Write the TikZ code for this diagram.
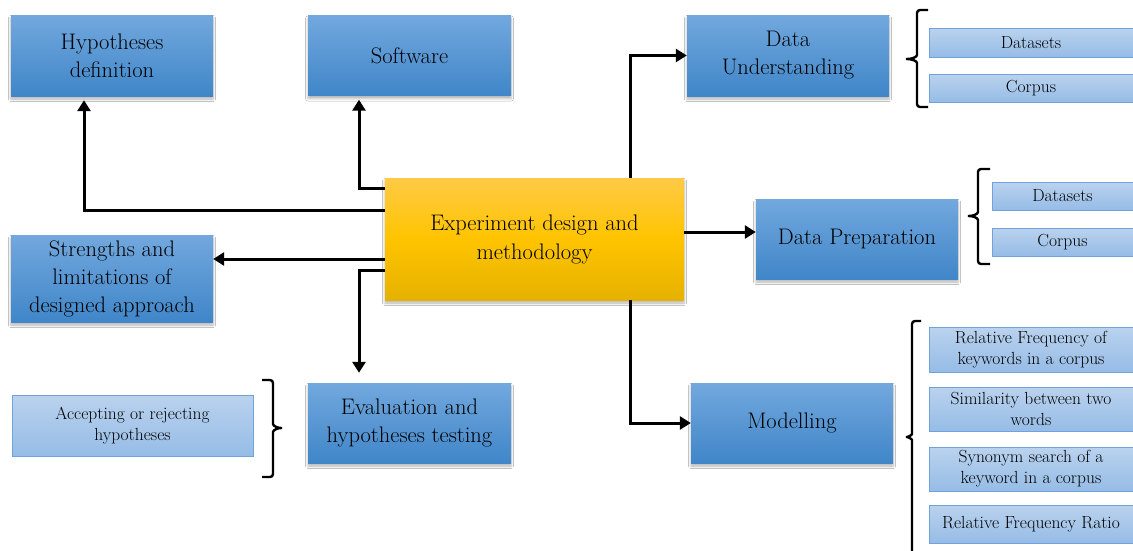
\documentclass[tikz,border=0pt]{standalone}
\usetikzlibrary{arrows.meta,shadows.blur,calc}
\definecolor{bluetop}{RGB}{114,168,222}
\definecolor{bluebot}{RGB}{64,134,200}
\definecolor{lighttop}{RGB}{186,210,238}
\definecolor{lightbot}{RGB}{150,188,230}
\definecolor{lightedge}{RGB}{112,162,222}
\definecolor{goldtop}{RGB}{255,202,70}
\definecolor{goldmid}{RGB}{255,196,0}
\definecolor{goldbot}{RGB}{230,178,0}
\tikzset{
  softshadow/.style={blur shadow={shadow xshift=0pt, shadow yshift=-3pt,
    shadow blur radius=2.5pt, shadow opacity=30}},
  bigbox/.style={rectangle, top color=bluetop, bottom color=bluebot, align=center,
    font=\fontsize{22.5}{28}\selectfont, inner sep=2pt, softshadow},
  corebox/.style={rectangle, top color=goldtop, bottom color=goldbot, middle color=goldmid,
    align=center, font=\fontsize{22.5}{29}\selectfont, inner sep=2pt, softshadow},
  subbox/.style={rectangle, top color=lighttop, bottom color=lightbot, draw=lightedge,
    line width=0.8pt, align=center, font=\fontsize{17.5}{21}\selectfont, inner sep=1pt},
  conn/.style={line width=3pt, -{Triangle[length=11pt,width=13pt]}},
  bracket/.style={line width=2.4pt, rounded corners=3pt},
}
\begin{document}
\begin{tikzpicture}[x=1pt,y=-1pt]
  \fill[white] (0,0) rectangle (1133,550);
  \useasboundingbox (0,0) rectangle (1133,550);

  % central box
  \node[corebox, minimum width=299pt, minimum height=122pt] (main) at (534.5,239)
    {Experiment design and\\methodology};

  % main blue boxes
  \node[bigbox, minimum width=202pt, minimum height=81pt] (hyp) at (112,55.5) {Hypotheses\\definition};
  \node[bigbox, minimum width=203pt, minimum height=80pt] (soft) at (409.5,55.5) {Software};
  \node[bigbox, minimum width=202pt, minimum height=81pt] (du) at (788,55.5) {Data\\Understanding};
  \node[bigbox, minimum width=202pt, minimum height=80pt] (dp) at (857,239) {Data Preparation};
  \node[bigbox, minimum width=202pt, minimum height=87pt] (str) at (112,278.5) {Strengths and\\limitations of\\designed approach};
  \node[bigbox, minimum width=203pt, minimum height=80pt] (eval) at (409.5,423) {Evaluation and\\hypotheses testing};
  \node[bigbox, minimum width=202pt, minimum height=80pt] (mod) at (792,423) {Modelling};

  % detail boxes
  \node[subbox, minimum width=204pt, minimum height=29pt] (ds1) at (1031,42.5) {Datasets};
  \node[subbox, minimum width=204pt, minimum height=28pt] (cp1) at (1031,88) {Corpus};
  \node[subbox, minimum width=141pt, minimum height=28pt] (ds2) at (1062.5,196) {Datasets};
  \node[subbox, minimum width=141pt, minimum height=28pt] (cp2) at (1062.5,242) {Corpus};
  \node[subbox, minimum width=204pt, minimum height=45pt] (m1) at (1031,349.5) {Relative Frequency of\\keywords in a corpus};
  \node[subbox, minimum width=204pt, minimum height=44pt] (m2) at (1031,409) {Similarity between two\\words};
  \node[subbox, minimum width=204pt, minimum height=44pt] (m3) at (1031,469) {Synonym search of a\\keyword in a corpus};
  \node[subbox, minimum width=204pt, minimum height=38pt] (m4) at (1031,524) {Relative Frequency Ratio};
  \node[subbox, minimum width=241pt, minimum height=61pt] (acc) at (132.5,425.5) {Accepting or rejecting\\hypotheses};

  % connectors from the central box
  \coordinate (oHyp) at ($(main.west)+(0,-29)$);
  \coordinate (oSoft) at ($(main.west)+(0,-51)$);
  \coordinate (oStr) at ($(main.west)+(0,20)$);
  \coordinate (oEval) at ($(main.west)+(0,31)$);
  \coordinate (oDu) at ($(main.north)+(95.5,0)$);
  \coordinate (oDp) at ($(main.east)+(0,-7)$);
  \coordinate (oMod) at ($(main.south)+(95.5,0)$);
  \coordinate (tHyp) at ($(hyp.south)+(-28,4)$);
  \coordinate (tSoft) at ($(soft.south)+(-50.5,4)$);
  \coordinate (tEval) at ($(eval.north)+(-50.5,-10)$);

  \draw[conn] (oHyp) -| (tHyp);
  \draw[conn] (oSoft) -| (tSoft);
  \draw[conn] (oStr) -- (oStr -| str.east);
  \draw[conn] (oEval) -| (tEval);
  \draw[conn] (oDu) |- (du.west);
  \draw[conn] (oDp) -- (oDp -| dp.west);
  \draw[conn] (oMod) |- (mod.west);

  % braces grouping the detail boxes
  % Data Understanding details (tip to the left)
  \coordinate (b1t) at (928,10);
  \coordinate (b1b) at (928,107);
  \coordinate (b1p) at (904,59);
  \draw[bracket] (b1t) -- (917,10) -- (917,52)
    .. controls (917,57) and (912,59) .. (b1p)
    .. controls (912,59) and (917,61) .. (917,66) -- (917,107) -- (b1b);
  % Data Preparation details (tip to the left)
  \coordinate (b2t) at (990,169);
  \coordinate (b2b) at (990,264);
  \coordinate (b2p) at (966,216);
  \draw[bracket] (b2t) -- (978,169) -- (978,209)
    .. controls (978,214) and (973,216) .. (b2p)
    .. controls (973,216) and (978,218) .. (978,223) -- (978,264) -- (b2b);
  % Modelling details (tip to the left, runs past the lower edge)
  \coordinate (b3t) at (921,321);
  \coordinate (b3b) at (912,560);
  \coordinate (b3p) at (904,437);
  \draw[bracket] (b3t) -- (912,321) -- (912,431)
    .. controls (912,435) and (908,437) .. (b3p)
    .. controls (908,437) and (912,439) .. (912,443) -- (b3b);
  % Evaluation details (tip to the right)
  \coordinate (b4t) at (262,380);
  \coordinate (b4b) at (262,477);
  \coordinate (b4p) at (284,428);
  \draw[bracket] (b4t) -- (273,380) -- (273,421)
    .. controls (273,426) and (278,428) .. (b4p)
    .. controls (278,428) and (273,430) .. (273,435) -- (273,477) -- (b4b);
\end{tikzpicture}
\end{document}
